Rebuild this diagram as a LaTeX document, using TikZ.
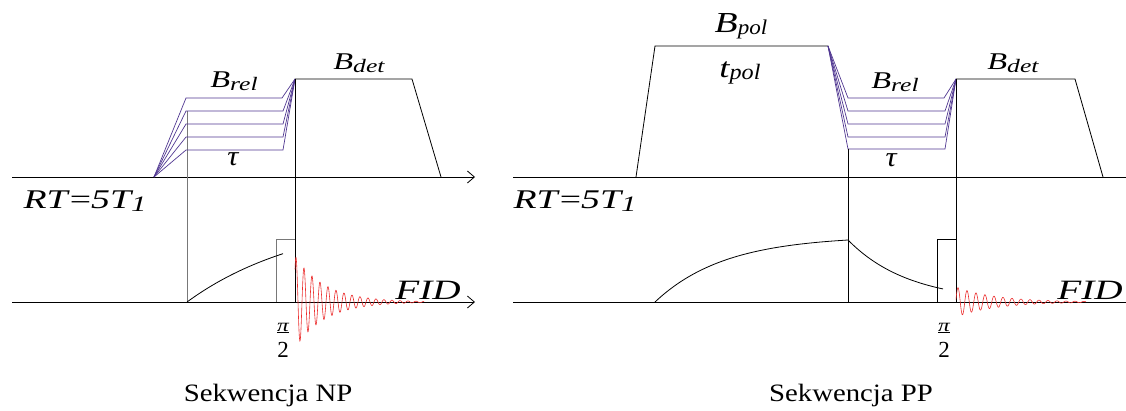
\documentclass[tikz,border=0pt]{standalone}
\usepackage{fontspec}
\setmainfont{Liberation Serif}
\usetikzlibrary{arrows.meta}
\definecolor{purp}{RGB}{80,55,145}
\definecolor{fidred}{RGB}{235,45,45}
\definecolor{lgray}{RGB}{120,120,120}
% #1 main letter, #2 subscript, #3 main size, #4 main xscale, #5 sub size, #6 sub xscale
\newcommand{\Bsub}[6]{{\itshape\fontsize{#3}{#3}\selectfont\scalebox{#4}[1]{#1}\fontsize{#5}{#5}\selectfont\raisebox{-2.5pt}{\scalebox{#6}[1]{#2}}}}
\newcommand{\Wide}[3]{{\fontsize{#1}{#1}\selectfont\scalebox{#2}[1]{#3}}}
\begin{document}
\begin{tikzpicture}[x=1pt,y=-1pt]
\tikzset{
  ln/.style={line width=0.8pt, draw=black},
  gr/.style={line width=0.8pt, draw=lgray},
  pur/.style={line width=0.7pt, draw=purp},
  ax/.style={line width=0.8pt, -{Straight Barb[length=7pt,width=12pt]}},
  fid/.style={line width=0.6pt, draw=fidred},
  lab/.style={inner sep=0pt, anchor=center}
}
\useasboundingbox (0,0) rectangle (1126,410);
% ---------------- left panel ----------------
\draw[ax] (12,177) -- (475,177);
\draw[ax] (12,302) -- (475,302);
\draw[gr] (187,111) -- (187,302);
\foreach \yy/\xr in {98/282,111/283,124/283,137/283,150/283}
  \draw[pur] (154,177) -- (186,\yy) -- (\xr,\yy) -- (295,79);
\draw[ln] (295,79) -- (412,79) -- (441,177);
\draw[ln] (295,79) -- (295,302);
\draw[gr] (276,302) -- (276,239) -- (295,239);
\draw[ln] plot[domain=187:283, samples=80, variable=\t] (\t, {302-87.8*(1-exp(-(\t-187)/120))});
\draw[fid] plot[domain=295:424, samples=500, variable=\t] (\t, {302-46*exp(-(\t-295)/30)*cos(45*(\t-296))});
\node[lab] (brelL) at (234,81) {\Bsub{B}{rel}{24}{1.35}{19}{1.35}};
\node[lab] (tauL) at (233,159) {\Wide{28}{1.1}{\itshape τ}};
\node[lab] (bdetL) at (359,63) {\Bsub{B}{det}{24}{1.35}{19}{1.35}};
\node[lab] (rtL) at (85,201) {\Wide{27}{1.4}{\itshape RT\textup{=}5T\raisebox{-3pt}{\fontsize{22}{22}\selectfont 1}}};
\node[lab] (fidL) at (428,290) {\Wide{28}{1.4}{\itshape FID}};
\node[lab] (piL) at (283,328) {\fontsize{18}{18}\selectfont\scalebox{1.3}[1]{\itshape\underline{π}}};
\node[lab] (twoL) at (283,350) {\fontsize{23}{23}\selectfont 2};
\node[lab] (capL) at (268,395) {\Wide{25}{1.15}{Sekwencja NP}};
% ---------------- right panel ----------------
\draw[ln] (513,177) -- (1126,177);
\draw[ln] (513,302) -- (1126,302);
\draw[ln] (636,177) -- (655,46) -- (828,46);
\foreach \yy/\xr in {98/944,111/945,124/945,137/945,149/945}
  \draw[pur] (828,46) -- (848,\yy) -- (\xr,\yy) -- (956,79);
\draw[ln] (848,149) -- (848,302);
\draw[ln] (956,79) -- (1075,79) -- (1103,177);
\draw[ln] (956,79) -- (956,302);
\draw[ln] (937,302) -- (937,239) -- (956,239);
\draw[ln] plot[domain=655:848, samples=100, variable=\t] (\t, {302-66.2*(1-exp(-(\t-655)/70))});
\draw[ln] plot[domain=848:943, samples=60, variable=\t] (\t, {302-62*exp(-(\t-848)/61)});
\draw[fid] plot[domain=956:1086, samples=500, variable=\t] (\t, {302-15*exp(-(\t-956)/40)*cos(40*(\t-958))});
\node[lab] (bpolR) at (741,26) {\Bsub{B}{pol}{29}{1.3}{21}{1.1}};
\node[lab] (tpolR) at (740,73) {\Bsub{t}{pol}{28}{1.3}{22}{1.1}};
\node[lab] (brelR) at (895,82) {\Bsub{B}{rel}{24}{1.35}{19}{1.35}};
\node[lab] (tauR) at (891,160) {\Wide{28}{1.1}{\itshape τ}};
\node[lab] (bdetR) at (1013,63) {\Bsub{B}{det}{24}{1.35}{19}{1.35}};
\node[lab] (rtR) at (575,201) {\Wide{27}{1.4}{\itshape RT\textup{=}5T\raisebox{-3pt}{\fontsize{22}{22}\selectfont 1}}};
\node[lab] (fidR) at (1090,290) {\Wide{28}{1.4}{\itshape FID}};
\node[lab] (piR) at (944,328) {\fontsize{18}{18}\selectfont\scalebox{1.3}[1]{\itshape\underline{π}}};
\node[lab] (twoR) at (944,350) {\fontsize{23}{23}\selectfont 2};
\node[lab] (capR) at (851,395) {\Wide{25}{1.15}{Sekwencja PP}};
\end{tikzpicture}
\end{document}
